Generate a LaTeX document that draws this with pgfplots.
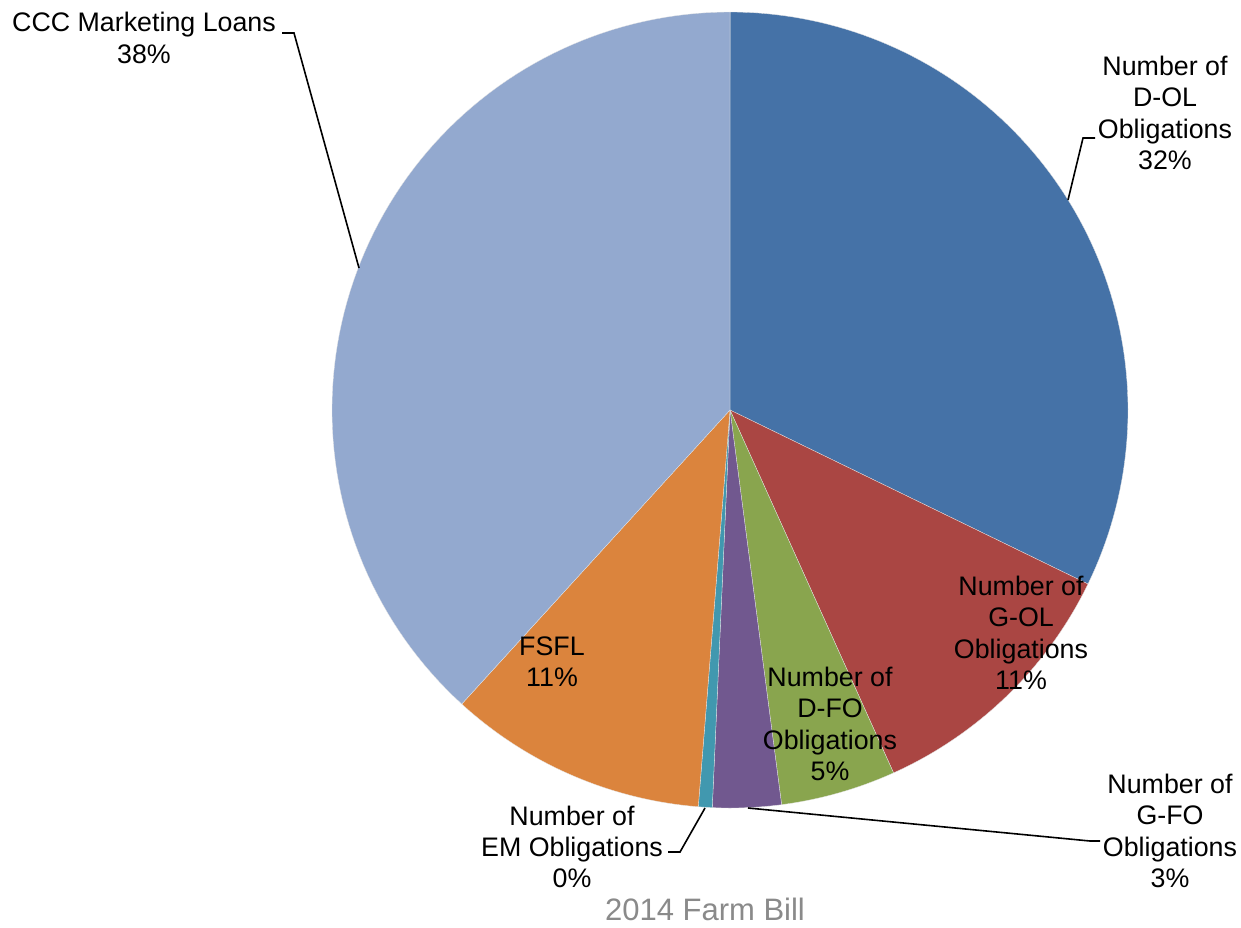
\documentclass[border=0pt]{standalone}
\usepackage{pgfplots}
\pgfplotsset{compat=1.18}
\usepackage{pgfplotstable}
\usepackage{fontspec}
\setmainfont{Liberation Sans}
\definecolor{cDOL}{HTML}{4572A7}
\definecolor{cGOL}{HTML}{AA4643}
\definecolor{cDFO}{HTML}{89A54E}
\definecolor{cGFO}{HTML}{71588F}
\definecolor{cEM}{HTML}{4198AF}
\definecolor{cFSFL}{HTML}{DB843D}
\definecolor{cCCC}{HTML}{93A9CF}
\definecolor{ttl}{HTML}{8A8A8A}
\tikzset{lbl/.style={font=\fontsize{26.8}{31.3}\selectfont, align=center, text=black, inner sep=0pt}}
\pgfplotstableread{
slice value
DOL 32.20
GOL 11.06
DFO 4.67
GFO 2.78
EM 0.56
FSFL 10.50
CCC 38.23
}\piedata
\begin{document}
\begin{tikzpicture}
\pgfplotstablegetelem{0}{value}\of\piedata \pgfmathsetmacro\aA{90-3.6*\pgfplotsretval}
\pgfplotstablegetelem{1}{value}\of\piedata \pgfmathsetmacro\aB{\aA-3.6*\pgfplotsretval}
\pgfplotstablegetelem{2}{value}\of\piedata \pgfmathsetmacro\aC{\aB-3.6*\pgfplotsretval}
\pgfplotstablegetelem{3}{value}\of\piedata \pgfmathsetmacro\aD{\aC-3.6*\pgfplotsretval}
\pgfplotstablegetelem{4}{value}\of\piedata \pgfmathsetmacro\aE{\aD-3.6*\pgfplotsretval}
\pgfplotstablegetelem{5}{value}\of\piedata \pgfmathsetmacro\aF{\aE-3.6*\pgfplotsretval}
\pgfplotstablegetelem{6}{value}\of\piedata \pgfmathsetmacro\aG{\aF-3.6*\pgfplotsretval}
\begin{axis}[
  width=1241pt, height=927pt, scale only axis,
  xmin=0, xmax=1241, ymin=0, ymax=927, y dir=reverse,
  hide axis, clip=false,
  every axis plot/.append style={draw=white!80!gray, line width=0.3pt, samples=90},
]
\addplot[fill=cDOL, domain=\aA:90] ({730+398*cos(x)},{410-398*sin(x)}) -- (axis cs:730,410) -- cycle;
\addplot[fill=cGOL, domain=\aB:\aA] ({730+398*cos(x)},{410-398*sin(x)}) -- (axis cs:730,410) -- cycle;
\addplot[fill=cDFO, domain=\aC:\aB] ({730+398*cos(x)},{410-398*sin(x)}) -- (axis cs:730,410) -- cycle;
\addplot[fill=cGFO, domain=\aD:\aC] ({730+398*cos(x)},{410-398*sin(x)}) -- (axis cs:730,410) -- cycle;
\addplot[fill=cEM, domain=\aE:\aD, samples=10] ({730+398*cos(x)},{410-398*sin(x)}) -- (axis cs:730,410) -- cycle;
\addplot[fill=cFSFL, domain=\aF:\aE] ({730+398*cos(x)},{410-398*sin(x)}) -- (axis cs:730,410) -- cycle;
\addplot[fill=cCCC, domain=\aG:\aF] ({730+398*cos(x)},{410-398*sin(x)}) -- (axis cs:730,410) -- cycle;
% leader lines
\draw[black, line width=1.6pt] (axis cs:282,33) -- (axis cs:294,33) -- (axis cs:359,268);
\draw[black, line width=1.6pt] (axis cs:1095,138) -- (axis cs:1083,138) -- (axis cs:1068,200);
\draw[black, line width=1.6pt] (axis cs:748,808) -- (axis cs:1090,841) -- (axis cs:1100,841);
\draw[black, line width=1.6pt] (axis cs:705,808) -- (axis cs:680,852) -- (axis cs:668,852);
% labels
\node[lbl] at (axis cs:144,38) {CCC Marketing Loans\\38\%};
\node[lbl] at (axis cs:1165,113) {Number of\\D-OL\\Obligations\\32\%};
\node[lbl] at (axis cs:1021,633) {Number of\\G-OL\\Obligations\\11\%};
\node[lbl] at (axis cs:830,724) {Number of\\D-FO\\Obligations\\5\%};
\node[lbl] at (axis cs:552,662) {FSFL\\11\%};
\node[lbl] at (axis cs:1170,831) {Number of\\G-FO\\Obligations\\3\%};
\node[lbl] at (axis cs:572,847) {Number of\\EM Obligations\\0\%};
\node[font=\fontsize{31}{36}\selectfont, text=ttl, inner sep=0pt] at (axis cs:705,909) {2014 Farm Bill};
\end{axis}
\pgfresetboundingbox
\path (current axis.south west) rectangle (current axis.north east);
\end{tikzpicture}
\end{document}
